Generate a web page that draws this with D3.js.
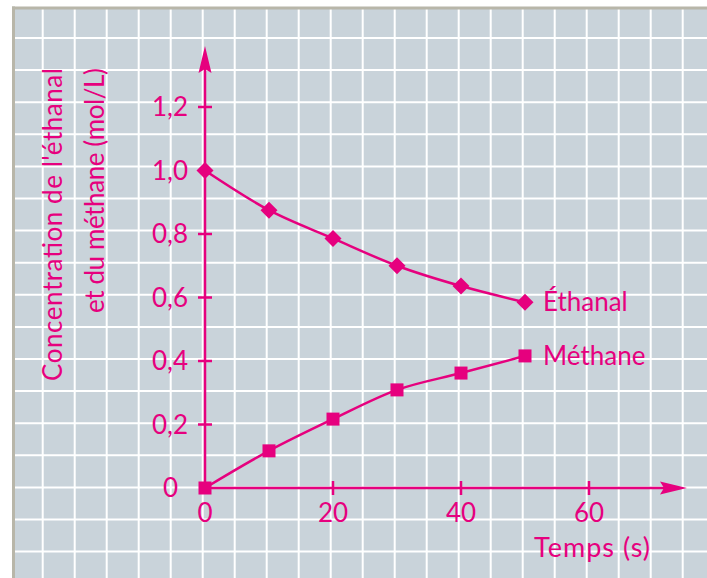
<!DOCTYPE html>
<html>
<head>
<meta charset="utf-8">
<script src="https://cdn.jsdelivr.net/npm/d3@7"></script>
<style>
  html, body { margin: 0; padding: 0; background: #ffffff; }
  svg { display: block; }
  text { font-family: Lato, "Open Sans", sans-serif; font-weight: 400; fill: #e6007e; }
</style>
</head>
<body>
<svg id="chart" width="707" height="578"></svg>
<script>
// ---- Data ----
const times = [0, 10, 20, 30, 40, 50];
const ethanal = [1.0, 0.875, 0.786, 0.70, 0.636, 0.585];
const methane = [0.0, 0.117, 0.217, 0.309, 0.362, 0.416];
const xTicks = [0, 20, 40, 60];
const yTicks = [0, 0.2, 0.4, 0.6, 0.8, 1.0, 1.2];
const seriesNames = ["Éthanal", "Méthane"];
const xTitle = "Temps (s)";
const yTitleLines = ["Concentration de l'éthanal", "et du méthane (mol/L)"];

const W = 707, H = 578;
const pink = "#e6007e";
const svg = d3.select("#chart");

// ---- Paper background ----
svg.append("rect").attr("x", 13).attr("y", 7).attr("width", W - 13).attr("height", H - 7)
  .attr("fill", "#c9d3da");
// grid
const gx = d3.range(0, 21).map(k => 42.7 + 32 * k);
const gy = d3.range(0, 17).map(k => 38 + 32.1 * k);
svg.append("g").selectAll("line").data(gx).join("line")
  .attr("x1", d => d).attr("x2", d => d).attr("y1", 9).attr("y2", H)
  .attr("stroke", "#ffffff").attr("stroke-width", 2);
svg.append("g").selectAll("line").data(gy).join("line")
  .attr("y1", d => d).attr("y2", d => d).attr("x1", 15).attr("x2", W)
  .attr("stroke", "#ffffff").attr("stroke-width", 2);
// borders
svg.append("rect").attr("x", 12).attr("y", 6.5).attr("width", W - 12).attr("height", 3).attr("fill", "#b8b6a9");
svg.append("rect").attr("x", 12).attr("y", 6.5).attr("width", 3).attr("height", H).attr("fill", "#b8b6a9");

// ---- Scales ----
const x = d3.scaleLinear().domain([0, 60]).range([205, 589]);
const y = d3.scaleLinear().domain([0, 1.2]).range([488, 107]);

// ---- Axes ----
const axisW = 2.5;
svg.append("line").attr("x1", x(0)).attr("x2", 668).attr("y1", y(0)).attr("y2", y(0))
  .attr("stroke", pink).attr("stroke-width", axisW);
svg.append("path").attr("d", `M660,${y(0) - 6.5} L687,${y(0)} L660,${y(0) + 6.5} L664,${y(0)} Z`).attr("fill", pink);
svg.append("line").attr("x1", x(0)).attr("x2", x(0)).attr("y1", y(0)).attr("y2", 66)
  .attr("stroke", pink).attr("stroke-width", axisW);
svg.append("path").attr("d", `M${x(0) - 6.5},73 L${x(0)},46 L${x(0) + 6.5},73 L${x(0)},69 Z`).attr("fill", pink);

const fmt = d => d3.format(".1f")(d).replace(".", ",");

// y ticks
const yt = svg.append("g");
yt.selectAll("line").data(yTicks.filter(d => d > 0)).join("line")
  .attr("x1", x(0) - 7).attr("x2", x(0) + 7).attr("y1", d => y(d)).attr("y2", d => y(d))
  .attr("stroke", pink).attr("stroke-width", 2.5);
yt.selectAll("text").data(yTicks).join("text")
  .attr("x", d => d === 0 ? 178 : 188).attr("y", d => y(d))
  .attr("dy", "0.35em").attr("text-anchor", "end").attr("font-size", 26)
  .text(d => d === 0 ? "0" : fmt(d));

// x ticks
const xt = svg.append("g");
xt.selectAll("line").data(xTicks.filter(d => d > 0)).join("line")
  .attr("x1", d => x(d)).attr("x2", d => x(d)).attr("y1", y(0) - 7).attr("y2", y(0) + 7)
  .attr("stroke", pink).attr("stroke-width", 2.5);
xt.selectAll("text").data(xTicks).join("text")
  .attr("x", d => x(d)).attr("y", 522).attr("text-anchor", "middle").attr("font-size", 26)
  .text(d => d);

// axis titles
svg.append("text").attr("x", 534).attr("y", 557).attr("font-size", 27)
  .attr("textLength", 116).attr("lengthAdjust", "spacing").text(xTitle);
svg.append("text").attr("transform", "translate(62,68) rotate(-90)")
  .attr("text-anchor", "end").attr("font-size", 26)
  .attr("textLength", 313).attr("lengthAdjust", "spacing").text(yTitleLines[0]);
svg.append("text").attr("transform", "translate(104,68) rotate(-90)")
  .attr("text-anchor", "end").attr("font-size", 26)
  .attr("textLength", 245).attr("lengthAdjust", "spacing").text(yTitleLines[1]);

// ---- Series ----
const line = d3.line().x(d => x(d[0])).y(d => y(d[1])).curve(d3.curveMonotoneX);
const eth = times.map((t, i) => [t, ethanal[i]]);
const met = times.map((t, i) => [t, methane[i]]);

svg.append("path").attr("d", line(eth)).attr("fill", "none").attr("stroke", pink).attr("stroke-width", 2.5);
svg.append("path").attr("d", line(met)).attr("fill", "none").attr("stroke", pink).attr("stroke-width", 2.5);

svg.append("g").selectAll("path").data(eth).join("path")
  .attr("transform", d => `translate(${x(d[0])},${y(d[1])})`)
  .attr("d", "M0,-8.5 L8.5,0 L0,8.5 L-8.5,0 Z").attr("fill", pink);
svg.append("g").selectAll("rect").data(met).join("rect")
  .attr("x", d => x(d[0]) - 6.5).attr("y", d => y(d[1]) - 6.5)
  .attr("width", 13).attr("height", 13).attr("fill", pink);

// series labels
svg.append("text").attr("x", 543).attr("y", y(ethanal[5])).attr("dy", "0.35em")
  .attr("font-size", 26).text(seriesNames[0]);
svg.append("text").attr("x", 543).attr("y", y(methane[5])).attr("dy", "0.35em")
  .attr("font-size", 26).text(seriesNames[1]);
</script>
</body>
</html>
